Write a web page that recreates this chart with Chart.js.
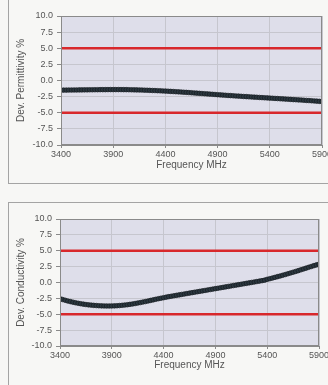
<!DOCTYPE html>
<html lang="en">
<head>
    <meta charset="UTF-8">
    <title>Dielectric deviation</title>
    <script src="https://cdn.jsdelivr.net/npm/chart.js"></script>
    <style>
        html, body {
            margin: 0;
            padding: 0;
            width: 328px;
            height: 385px;
            overflow: hidden;
            background: #f7f7f5;
        }
        .box {
            position: absolute;
            left: 8px;
            width: 340px;
            border: 1px solid #a4a4a4;
        }
        .wrap {
            position: absolute;
            left: 0;
            width: 340px;
        }
    </style>
</head>
<body>
    <div class="box" style="top:-20px;height:202px;"></div>
    <div class="box" style="top:202px;height:200px;"></div>
    <div class="wrap" style="top:0;height:183px;"><canvas id="permChart"></canvas></div>
    <div class="wrap" style="top:190px;height:195px;"><canvas id="condChart"></canvas></div>

    <script>
        const freqMHz = [
            3400, 3425, 3450, 3475, 3500, 3525, 3550, 3575, 3600, 3625, 3650, 3675,
            3700, 3725, 3750, 3775, 3800, 3825, 3850, 3875, 3900, 3925, 3950, 3975,
            4000, 4025, 4050, 4075, 4100, 4125, 4150, 4175, 4200, 4225, 4250, 4275,
            4300, 4325, 4350, 4375, 4400, 4425, 4450, 4475, 4500, 4525, 4550, 4575,
            4600, 4625, 4650, 4675, 4700, 4725, 4750, 4775, 4800, 4825, 4850, 4875,
            4900, 4925, 4950, 4975, 5000, 5025, 5050, 5075, 5100, 5125, 5150, 5175,
            5200, 5225, 5250, 5275, 5300, 5325, 5350, 5375, 5400, 5425, 5450, 5475,
            5500, 5525, 5550, 5575, 5600, 5625, 5650, 5675, 5700, 5725, 5750, 5775,
            5800, 5825, 5850, 5875, 5900
        ];

        const permDev = [
            -1.50, -1.49, -1.49, -1.48, -1.48, -1.47, -1.47, -1.46, -1.46, -1.45, -1.45, -1.44,
            -1.44, -1.43, -1.43, -1.42, -1.42, -1.42, -1.41, -1.41, -1.41, -1.41, -1.41, -1.41,
            -1.42, -1.42, -1.43, -1.44, -1.45, -1.46, -1.47, -1.48, -1.50, -1.51, -1.53, -1.55,
            -1.56, -1.58, -1.60, -1.62, -1.64, -1.66, -1.69, -1.71, -1.74, -1.76, -1.79, -1.82,
            -1.84, -1.87, -1.90, -1.93, -1.96, -1.99, -2.02, -2.05, -2.08, -2.11, -2.14, -2.17,
            -2.20, -2.23, -2.26, -2.29, -2.32, -2.34, -2.37, -2.40, -2.42, -2.45, -2.48, -2.50,
            -2.53, -2.55, -2.58, -2.60, -2.63, -2.65, -2.68, -2.70, -2.73, -2.75, -2.78, -2.80,
            -2.83, -2.85, -2.88, -2.90, -2.93, -2.96, -2.98, -3.01, -3.03, -3.06, -3.09, -3.11,
            -3.14, -3.17, -3.20, -3.23, -3.26
        ];

        const condDev = [
            -2.55, -2.68, -2.80, -2.91, -3.01, -3.10, -3.19, -3.27, -3.34, -3.41, -3.47, -3.52,
            -3.56, -3.60, -3.63, -3.66, -3.68, -3.69, -3.70, -3.70, -3.69, -3.68, -3.66, -3.63,
            -3.59, -3.55, -3.50, -3.44, -3.38, -3.31, -3.24, -3.16, -3.08, -3.00, -2.91, -2.82,
            -2.73, -2.64, -2.55, -2.47, -2.39, -2.31, -2.23, -2.16, -2.09, -2.02, -1.95, -1.88,
            -1.81, -1.74, -1.67, -1.60, -1.53, -1.46, -1.39, -1.32, -1.25, -1.18, -1.11, -1.04,
            -0.97, -0.90, -0.83, -0.76, -0.69, -0.62, -0.55, -0.48, -0.41, -0.34, -0.27, -0.20,
            -0.13, -0.06, 0.01, 0.08, 0.15, 0.22, 0.29, 0.37, 0.50, 0.60, 0.70, 0.81,
            0.92, 1.03, 1.14, 1.26, 1.38, 1.50, 1.62, 1.74, 1.87, 2.00, 2.13, 2.26,
            2.39, 2.52, 2.65, 2.77, 2.88
        ];

        // tolerance band, +/- 5 %
        const limitFreq = [3400, 5900];
        const upperLimit = [5, 5];
        const lowerLimit = [-5, -5];

        const FONT = "'Liberation Sans', Arial, sans-serif";
        const TEXT = '#555';

        // lavender plot background + grey frame round the plot area
        const plotFrame = {
            id: 'plotFrame',
            beforeDraw(chart) {
                const a = chart.chartArea, ctx = chart.ctx;
                ctx.save();
                ctx.fillStyle = '#dedeea';
                ctx.fillRect(a.left, a.top, a.right - a.left, a.bottom - a.top);
                ctx.restore();
            },
            afterDatasetsDraw(chart) {
                const a = chart.chartArea, ctx = chart.ctx;
                ctx.save();
                ctx.strokeStyle = '#8a8a8a';
                ctx.lineWidth = 1;
                ctx.strokeRect(a.left + 0.5, a.top + 0.5, a.right - a.left - 1, a.bottom - a.top - 1);
                ctx.restore();
            }
        };

        function xy(xs, ys) {
            return xs.map((x, i) => ({ x: x, y: ys[i] }));
        }

        function makeChart(id, yTitle, values, pad, yWidth, xHeight, xTitlePad) {
            const limitStyle = {
                borderColor: '#d8282c',
                borderWidth: 2.5,
                pointRadius: 0,
                fill: false
            };
            return new Chart(document.getElementById(id), {
                type: 'line',
                data: {
                    datasets: [
                        Object.assign({ data: xy(limitFreq, upperLimit) }, limitStyle),
                        Object.assign({ data: xy(limitFreq, lowerLimit) }, limitStyle),
                        {
                            data: xy(freqMHz, values),
                            borderColor: '#26313a',
                            borderWidth: 1,
                            pointRadius: 2.3,
                            pointBackgroundColor: '#2c3840',
                            pointBorderColor: '#141a1e',
                            pointBorderWidth: 0.7
                        }
                    ]
                },
                options: {
                    responsive: true,
                    maintainAspectRatio: false,
                    animation: false,
                    layout: { padding: pad },
                    plugins: {
                        legend: { display: false },
                        tooltip: { enabled: false }
                    },
                    scales: {
                        x: {
                            type: 'linear',
                            min: 3400,
                            max: 5900,
                            afterFit: s => { s.height = xHeight; },
                            ticks: {
                                stepSize: 500,
                                padding: 1,
                                color: TEXT,
                                font: { family: FONT, size: 9 },
                                maxRotation: 0,
                                callback: v => String(v)
                            },
                            grid: { color: '#c6c6ce', tickLength: 3, tickColor: '#8a8a8a' },
                            border: { color: '#8a8a8a' },
                            title: {
                                display: true,
                                text: 'Frequency MHz',
                                color: TEXT,
                                font: { family: FONT, size: 10 },
                                padding: { top: 0, bottom: xTitlePad }
                            }
                        },
                        y: {
                            min: -10,
                            max: 10,
                            afterFit: s => { s.width = yWidth; },
                            ticks: {
                                stepSize: 2.5,
                                padding: 4,
                                color: TEXT,
                                font: { family: FONT, size: 9 },
                                callback: v => v.toFixed(1)
                            },
                            grid: { color: '#c6c6ce', tickLength: 4, tickColor: '#8a8a8a' },
                            border: { color: '#8a8a8a' },
                            title: {
                                display: true,
                                text: yTitle,
                                color: TEXT,
                                font: { family: FONT, size: 10 },
                                padding: { top: 15, bottom: 0 }
                            }
                        }
                    }
                },
                plugins: [plotFrame]
            });
        }

        makeChart('permChart', 'Dev. Permittivity %', permDev,
            { top: 16, right: 18, bottom: 0, left: 0 }, 61, 38, 12);
        makeChart('condChart', 'Dev. Conductivity %', condDev,
            { top: 29, right: 21, bottom: 0, left: 0 }, 60, 39, 14);
    </script>
</body>
</html>
